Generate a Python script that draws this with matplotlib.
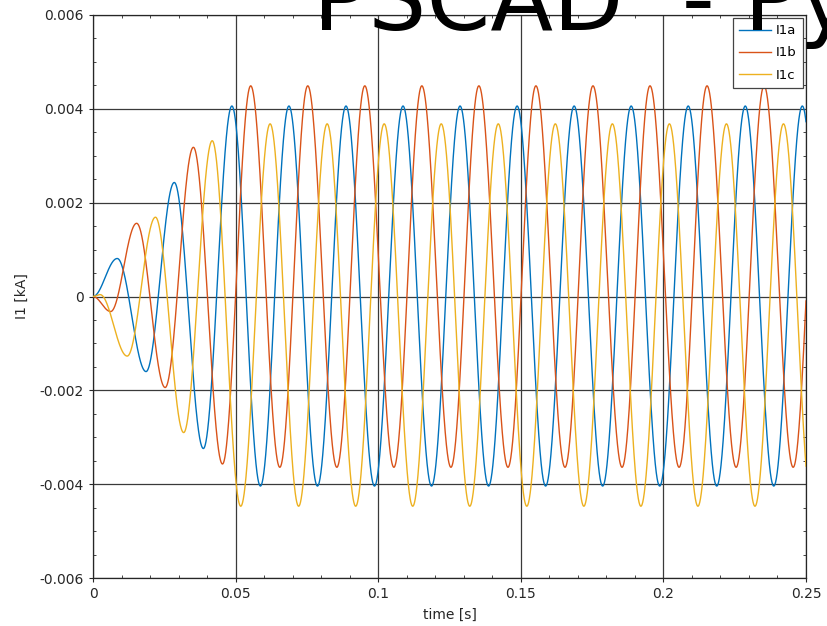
#!/usr/bin/env python3
"""Three-phase current I1 (a, b, c) start-up transient over the first 0.25 s."""

import matplotlib

matplotlib.use("Agg")
import matplotlib.pyplot as plt
import numpy as np
from matplotlib.ticker import FixedLocator, MultipleLocator

# Turning points (time in s, current in kA) of each phase current.
I1A_T = [0.0, 0.0085, 0.0186, 0.0285, 0.0387, 0.0487, 0.0587, 0.0687, 0.0787,
         0.0887, 0.0987, 0.1087, 0.1187, 0.1287, 0.1387, 0.1487, 0.1587,
         0.1687, 0.1787, 0.1887, 0.1987, 0.2087, 0.2187, 0.2287, 0.2387,
         0.2487, 0.2587]
I1A_V = [0.0, 0.00081, -0.00160, 0.00243, -0.00324, 0.00406, -0.00404,
         0.00406, -0.00404, 0.00406, -0.00404, 0.00406, -0.00404, 0.00406,
         -0.00404, 0.00406, -0.00404, 0.00406, -0.00404, 0.00406, -0.00404,
         0.00406, -0.00404, 0.00406, -0.00404, 0.00406, -0.00404]

I1B_T = [0.0, 0.0062, 0.0153, 0.0253, 0.0352, 0.0454, 0.0553, 0.0655, 0.0753,
         0.0855, 0.0953, 0.1055, 0.1153, 0.1255, 0.1353, 0.1455, 0.1553,
         0.1655, 0.1753, 0.1855, 0.1953, 0.2055, 0.2153, 0.2255, 0.2353,
         0.2455, 0.2553]
I1B_V = [0.0, -0.00032, 0.00156, -0.00194, 0.00318, -0.00357, 0.00449,
         -0.00364, 0.00449, -0.00364, 0.00449, -0.00364, 0.00449, -0.00364,
         0.00449, -0.00364, 0.00449, -0.00364, 0.00449, -0.00364, 0.00449,
         -0.00364, 0.00449, -0.00364, 0.00449, -0.00364, 0.00449]

I1C_T = [0.0, 0.0025, 0.0120, 0.0219, 0.0318, 0.0418, 0.0518, 0.0621, 0.0721,
         0.0821, 0.0921, 0.1021, 0.1121, 0.1221, 0.1321, 0.1421, 0.1521,
         0.1621, 0.1721, 0.1821, 0.1921, 0.2021, 0.2121, 0.2221, 0.2321,
         0.2421, 0.2521]
I1C_V = [0.0, 0.00004, -0.00127, 0.00169, -0.00290, 0.00332, -0.00447,
         0.00368, -0.00447, 0.00368, -0.00447, 0.00368, -0.00447, 0.00368,
         -0.00447, 0.00368, -0.00447, 0.00368, -0.00447, 0.00368, -0.00447,
         0.00368, -0.00447, 0.00368, -0.00447, 0.00368, -0.00447]

SERIES_LABELS = ["I1a", "I1b", "I1c"]
X_TICKS = [0.0, 0.05, 0.1, 0.15, 0.2, 0.25]
X_TICK_LABELS = ["0", "0.05", "0.1", "0.15", "0.2", "0.25"]
Y_TICKS = [-0.006, -0.004, -0.002, 0.0, 0.002, 0.004, 0.006]
Y_TICK_LABELS = ["-0.006", "-0.004", "-0.002", "0", "0.002", "0.004", "0.006"]

COLORS = ["#0072BD", "#D95319", "#EDB120"]
AXIS_COLOR = "#262626"
T_END = 0.25


def waveform(t, turn_t, turn_v):
    """Sinusoidal half-swings joining consecutive turning points."""
    turn_t = np.asarray(turn_t)
    turn_v = np.asarray(turn_v)
    idx = np.clip(np.searchsorted(turn_t, t, side="right") - 1, 0, len(turn_t) - 2)
    t0, t1 = turn_t[idx], turn_t[idx + 1]
    v0, v1 = turn_v[idx], turn_v[idx + 1]
    u = (t - t0) / (t1 - t0)
    return v0 + (v1 - v0) * (1.0 - np.cos(np.pi * u)) / 2.0


fig = plt.figure(figsize=(8.27, 6.26), dpi=100)
ax = fig.add_axes([93 / 827, 1 - 578 / 626, 713 / 827, 563 / 626])

t = np.linspace(0.0, T_END, 5001)
for (tt, vv), label, color in zip(
    [(I1A_T, I1A_V), (I1B_T, I1B_V), (I1C_T, I1C_V)], SERIES_LABELS, COLORS
):
    ax.plot(t, waveform(t, tt, vv), color=color, linewidth=1.0, label=label, zorder=3)

ax.set_xlim(0.0, T_END)
ax.set_ylim(-0.006, 0.006)
ax.xaxis.set_major_locator(FixedLocator(X_TICKS))
ax.yaxis.set_major_locator(FixedLocator(Y_TICKS))
ax.set_xticklabels(X_TICK_LABELS)
ax.set_yticklabels(Y_TICK_LABELS)
ax.xaxis.set_minor_locator(MultipleLocator(0.01))
ax.yaxis.set_minor_locator(MultipleLocator(0.0005))
ax.tick_params(which="major", direction="out", length=3, width=0.8,
               colors=AXIS_COLOR, labelsize=10)
ax.tick_params(which="minor", direction="in", length=2, width=0.6,
               colors=AXIS_COLOR, top=True, right=True)
ax.grid(True, which="major", color="#3a3a3a", linewidth=0.9, zorder=1)
for spine in ax.spines.values():
    spine.set_color(AXIS_COLOR)
    spine.set_linewidth(0.9)

ax.set_xlabel("time [s]", fontsize=10, color=AXIS_COLOR, labelpad=5)
ax.set_ylabel("I1 [kA]", fontsize=10, color=AXIS_COLOR, labelpad=8)

# title drawn first so the legend box sits on top of it
fig.text(313 / 827, 1 - 30 / 626, "PSCAD  - Py", fontsize=66, color="black",
         ha="left", va="baseline", zorder=1)

leg = ax.legend(loc="upper right", fontsize=9.5, frameon=True, fancybox=False,
                borderpad=0.45, labelspacing=0.7, handlelength=2.4,
                handletextpad=0.4, borderaxespad=0.25)
leg.get_frame().set_edgecolor("#444444")
leg.get_frame().set_linewidth(0.9)
leg.get_frame().set_alpha(1.0)
leg.set_zorder(10)

fig.savefig("out.png", dpi=100)
